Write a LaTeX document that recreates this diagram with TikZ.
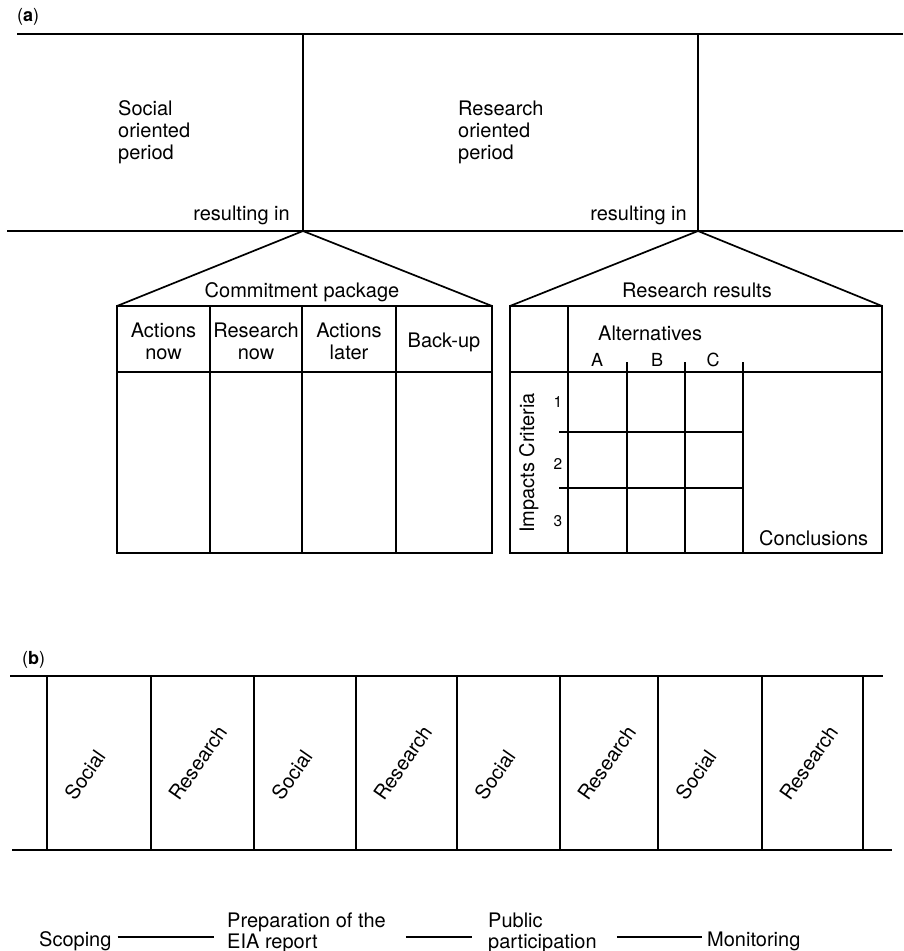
\documentclass[tikz,border=0pt]{standalone}
\usepackage{fontspec}
\setmainfont{TeX Gyre Heros}
\usetikzlibrary{calc}
\begin{document}
\begin{tikzpicture}[x=1pt,y=-1pt,
  rule/.style={line width=1.7pt},
  conn/.style={line width=1.3pt},
  txt/.style={inner sep=0pt, font=\fontsize{20}{22}\selectfont},
  pair/.style={inner sep=0pt, align=left, font=\fontsize{20}{21}\selectfont},
  letter/.style={inner sep=0pt, font=\fontsize{18}{20}\selectfont},
  digit/.style={inner sep=0pt, font=\fontsize{15.5}{18}\selectfont},
  tag/.style={inner sep=0pt, font=\fontsize{18}{20}\selectfont}]
\useasboundingbox (0,0) rectangle (903,951);

% ---------- (a): periods ----------
\node[tag, anchor=base west] (taga) at (17,21) {(\textbf{a})};
\draw[rule] (17,34) -- (903,34);
\draw[rule] (7,231) -- (903,231);
\coordinate (apexC) at (303,231);
\coordinate (apexR) at (698,231);
\draw[rule] (303,34) -- (apexC);
\draw[rule] (698,34) -- (apexR);

\node[txt, anchor=north west, align=left] (social) at (118,100.6) {Social\\oriented\\period};
\node[txt, anchor=north west, align=left] (research) at (458,100.6) {Research\\oriented\\period};
\node[txt, anchor=base east] (resA) at (290,220) {resulting in};
\node[txt, anchor=base east] (resB) at (687,220) {resulting in};

% ---------- commitment package ----------
\coordinate (cpTL) at (117,306);
\coordinate (cpTR) at (492,306);
\coordinate (cpBR) at (492,553);
\draw[rule] (cpTL) -- (apexC) -- (cpTR);
\draw[rule] (cpTL) rectangle (cpBR);
\draw[rule] (117,372) -- (492,372);
\foreach \x in {210,302,396} \draw[rule] (\x,306) -- (\x,553);
\node[txt, anchor=base] (cphead) at (302,297) {Commitment package};
\node[txt, align=center] (actnow) at (163.5,341) {Actions\\now};
\node[txt, align=center] (resnow) at (256,341) {Research\\now};
\node[txt, align=center] (actlater) at (349,341) {Actions\\later};
\node[txt, anchor=base] (backup) at (444,347) {Back-up};

% ---------- research results ----------
\coordinate (rrTL) at (510,306);
\coordinate (rrTR) at (882,306);
\coordinate (rrBR) at (882,553);
\draw[rule] (rrTL) -- (apexR) -- (rrTR);
\draw[rule] (rrTL) rectangle (rrBR);
\draw[rule] (510,372) -- (882,372);
\draw[rule] (568,306) -- (568,553);
\foreach \x in {627,685,743} \draw[rule] (\x,362) -- (\x,553);
\foreach \y in {432,488} \draw[rule] (559,\y) -- (743,\y);
\node[txt, anchor=base] (rrhead) at (697,297) {Research results};
\node[txt, anchor=base west] (alts) at (598,340) {Alternatives};
\node[letter, anchor=base] (altA) at (597,366) {A};
\node[letter, anchor=base] (altB) at (657,366) {B};
\node[letter, anchor=base] (altC) at (713,366) {C};
\node[digit, anchor=base] (crit1) at (558,407) {1};
\node[digit, anchor=base] (crit2) at (558,469) {2};
\node[digit, anchor=base] (crit3) at (558,526) {3};
\node[txt, rotate=90, anchor=base west] (impacts) at (534,533) {Impacts Criteria};
\node[txt, anchor=base west] (concl) at (759,545) {Conclusions};

% ---------- (b): alternating periods ----------
\node[tag, anchor=base west] (tagb) at (22,664) {(\textbf{b})};
\draw[rule] (10,676) -- (883,676);
\draw[rule] (12,850) -- (892,850);
\foreach \x in {47,151,254,356,457,560,658,762,863} \draw[rule] (\x,676) -- (\x,850);
\foreach \x/\t [count=\i] in {47/Social,151/Research,254/Social,356/Research,457/Social,560/Research,658/Social,762/Research}
  \node[txt, rotate=55, anchor=base west] (phase\i) at (\x+28,802) {\t};

% ---------- EIA stages ----------
\node[txt, anchor=base west] (scop) at (39,946) {Scoping};
\node[pair, anchor=west] (prep) at (227,932.4) {Preparation of the\\EIA report};
\node[pair, anchor=west] (pub) at (488,932.4) {Public\\participation};
\node[txt, anchor=base west] (mon) at (707,946) {Monitoring};
\draw[conn] ($(scop.base east)+(6,-9)$) -- ($(prep.west |- scop.base)+(-13,-9)$);
\draw[conn] ($(prep.east |- scop.base)+(20,-9)$) -- ($(pub.west |- scop.base)+(-16,-9)$);
\draw[conn] ($(pub.east |- scop.base)+(20,-9)$) -- ($(mon.base west)+(-5,-9)$);
\end{tikzpicture}
\end{document}
